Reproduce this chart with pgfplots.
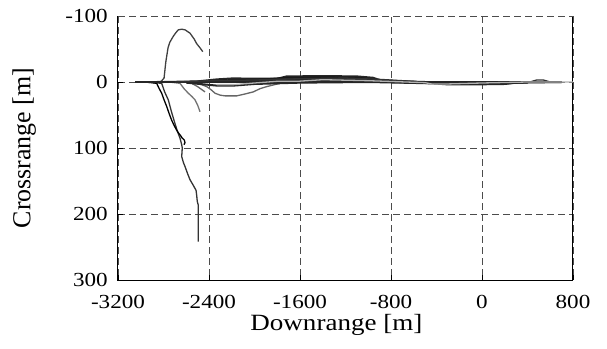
\documentclass[border=0pt]{standalone}
\usepackage{fontspec}
\setmainfont{Liberation Serif}[FakeStretch=1.16]
\newfontfamily\ylabfont{Liberation Serif}
\usepackage{pgfplots}
\pgfplotsset{compat=1.18}
\definecolor{gridc}{gray}{0.3}
\begin{document}
\begin{tikzpicture}
\begin{axis}[
  scale only axis, width=455bp, height=264bp,
  xmin=-3200, xmax=800, ymin=-100, ymax=300, y dir=reverse,
  xtick={-3200,-2400,-1600,-800,0,800},
  ytick={-100,0,100,200,300},
  xtick pos=bottom, ytick pos=left,
  tick align=inside, major tick length=5bp,
  tick style={black, line width=0.8bp},
  axis line style={black, line width=1bp},
  grid=major,
  major grid style={gridc, line width=0.8bp, dash pattern=on 7bp off 4bp},
  /pgf/number format/assume math mode=true,
  /pgf/number format/1000 sep={},
  tick label style={font=\fontsize{20}{22}\selectfont},
  xticklabel style={anchor=north, inner sep=0pt, yshift=-15bp},
  yticklabel style={anchor=east, inner sep=0pt, xshift=-10bp},
  xlabel={Downrange [m]}, ylabel={Crossrange [m]},
  xlabel style={font=\fontsize{23.4}{26}\selectfont, at={(axis description cs:0.48,-0.17)}, anchor=center},
  ylabel style={font=\ylabfont\fontsize{26}{28}\selectfont, at={(axis description cs:-0.206,0.5)}, anchor=center},
  every axis plot/.append style={line width=1.3bp},
  clip=false,
]
% arc upward
\addplot[color=black!75] coordinates {(-2900,0) (-2820,-1) (-2795,-6) (-2780,-30) (-2760,-52) (-2745,-60) (-2715,-69) (-2690,-75) (-2670,-79) (-2640,-80) (-2610,-79) (-2567,-74) (-2530,-65) (-2508,-58) (-2480,-52) (-2455,-46)};
% long downward
\addplot[color=black!80] coordinates {(-3000,0) (-2880,1) (-2816,2) (-2790,15) (-2758,27) (-2730,45) (-2699,63) (-2675,76) (-2655,85) (-2640,95) (-2635,100) (-2640,113) (-2625,122) (-2611,128) (-2590,138) (-2567,148) (-2540,156) (-2514,164) (-2508,172) (-2503,181) (-2495,186) (-2495,242)};
% black downward
\addplot[color=black] coordinates {(-2950,0) (-2860,2) (-2838,10) (-2816,17) (-2795,27) (-2772,37) (-2750,48) (-2728,58) (-2706,66) (-2684,73) (-2665,78) (-2655,80) (-2635,85) (-2617,88) (-2611,92) (-2620,95)};
% grey short downward
\addplot[color=black!55] coordinates {(-2750,0) (-2655,2) (-2620,10) (-2582,17) (-2550,22) (-2523,27) (-2500,35) (-2479,45)};
\addplot[color=black!60] coordinates {(-2600,0) (-2552,2) (-2500,7) (-2435,15)};
% dip curve
\addplot[color=black!60] coordinates {(-2600,0) (-2480,3) (-2420,7) (-2380,12) (-2347,17) (-2300,20) (-2259,21) (-2156,21) (-2080,18) (-2011,15) (-1950,10) (-1893,7) (-1776,2) (-1650,1) (-1400,0)};
% bundle near zero
\addplot[color=black!85, line width=2bp] coordinates {(-3050,0) (-2400,0) (-1600,0) (-800,0) (0,0) (700,0)};
\addplot[color=black!85, line width=2bp] coordinates {(-2800,0) (-2500,-1) (-2330,-4) (-2190,-5.5) (-2000,-5) (-1800,-5) (-1717,-8.5) (-1400,-9) (-1100,-8.5) (-960,-6.5) (-900,-3) (-800,-1) (-600,0) (-400,1) (0,1) (400,0) (700,0)};
\addplot[color=black!90, line width=2bp] coordinates {(-2500,0) (-2200,-3) (-1900,-4) (-1717,-6.5) (-1400,-7) (-1100,-6.5) (-900,-3) (-700,-1) (-500,0)};
\addplot[color=black!85, line width=2bp] coordinates {(-2400,-1) (-2000,-2) (-1717,-4.5) (-1300,-5) (-1000,-4) (-800,-1) (-600,0)};
\addplot[color=black!85, line width=2bp] coordinates {(-2500,0) (-2200,-1.5) (-1717,-2.5) (-1300,-2.5) (-1000,-2) (-800,0)};
\addplot[color=black!80] coordinates {(-2700,0) (-2400,-2) (-2000,-3) (-1600,-5) (-1200,-6) (-900,-4) (-600,-1) (-400,2) (-200,3) (0,3) (200,2.5) (400,1) (480,-3) (540,-3) (600,0) (700,0)};
\addplot[color=black!85, line width=2bp] coordinates {(-2600,1) (-2330,5.5) (-2186,5.5) (-2000,3) (-1600,1) (-1000,0) (-443,2) (-311,3.5) (0,3.5) (202,3) (300,1) (700,0)};
\addplot[color=black!85, line width=2bp] coordinates {(-800,0) (-600,1) (-400,2) (0,2) (250,1.5) (400,0.5)};
\addplot[color=black!30] coordinates {(-2330,4) (-2186,4) (-2000,1.5) (-1805,-1) (-1629,-1) (-1400,-3.5) (-1000,-2) (-500,1) (-443,3) (-311,3) (0,1.5) (400,0) (800,0)};
\coordinate (TL) at (axis cs:-3200,-100);
\coordinate (TR) at (axis cs:800,-100);
\coordinate (BL) at (axis cs:-3200,300);
\end{axis}
\draw[white, line width=1.4bp] (TL) -- (TR);
\draw[gridc, line width=0.8bp, dash pattern=on 7bp off 4bp] (TL) -- (TR);
\path (BL) ++(-118bp,-69bp) rectangle ++(607bp,349bp);
\end{tikzpicture}
\end{document}
